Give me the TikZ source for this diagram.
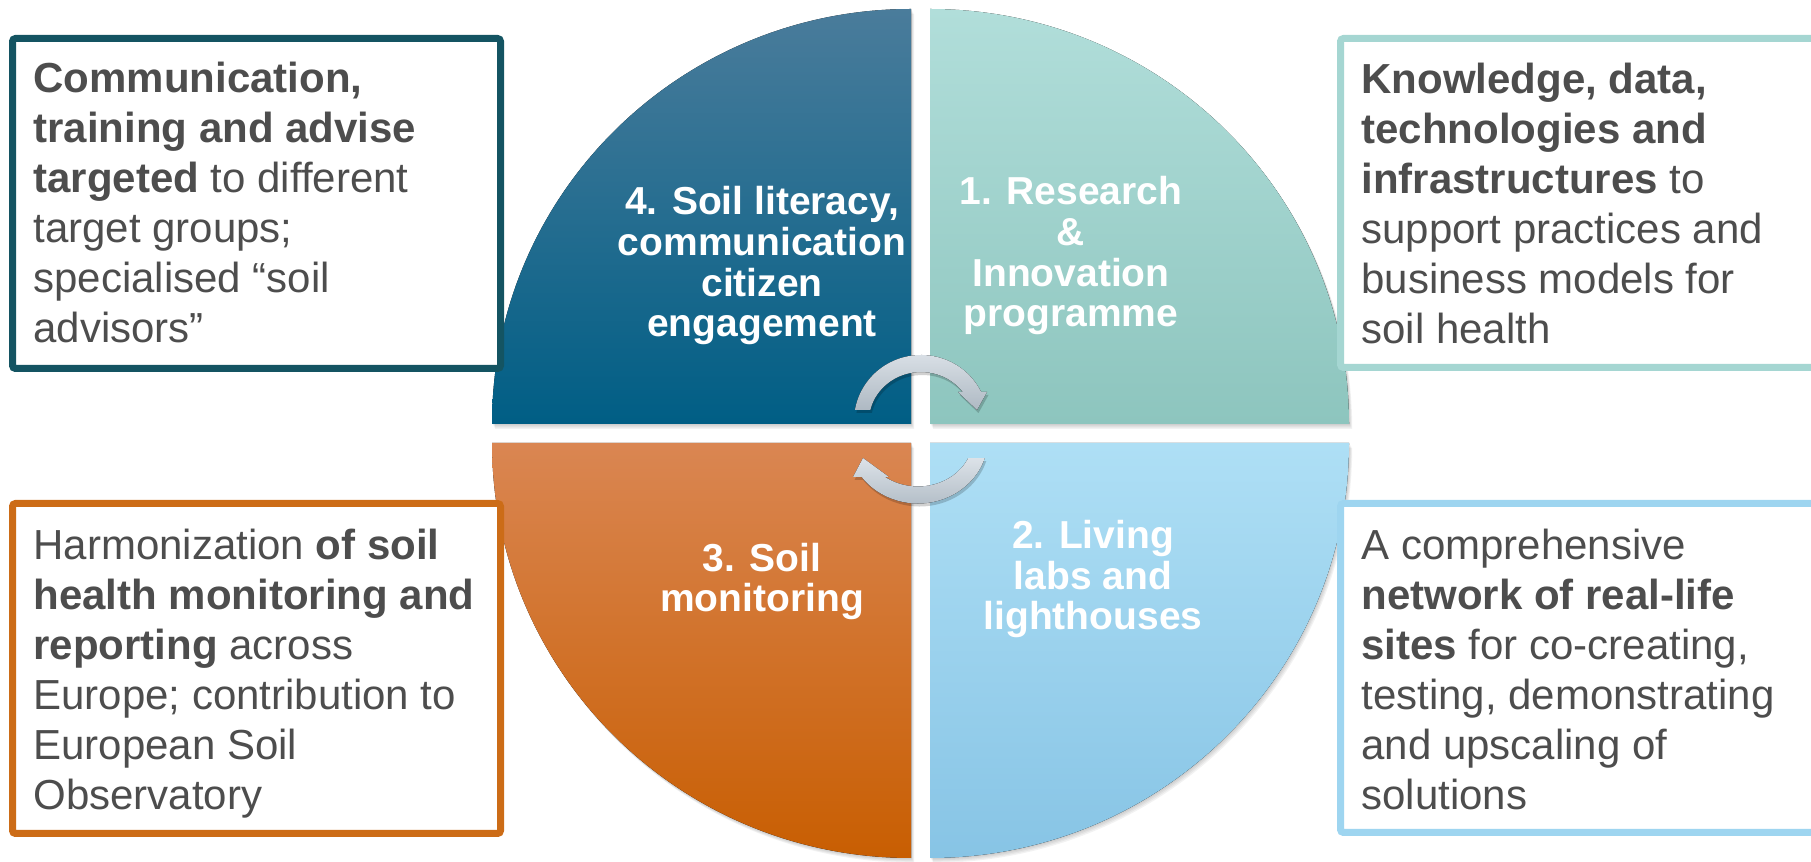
\documentclass[tikz,border=0pt]{standalone}
\usepackage{fontspec}
\setmainfont{Liberation Sans}
\usetikzlibrary{calc}
\definecolor{txt}{HTML}{4D4D4D}
\definecolor{tlTop}{HTML}{4A7C9B}
\definecolor{tlBot}{HTML}{005E85}
\definecolor{trTop}{HTML}{B1DEDA}
\definecolor{trBot}{HTML}{8DC5BE}
\definecolor{blTop}{HTML}{DA8652}
\definecolor{blBot}{HTML}{C85E02}
\definecolor{brTop}{HTML}{AEDFF5}
\definecolor{brBot}{HTML}{87C4E5}
\definecolor{tlLine}{HTML}{145462}
\definecolor{trLine}{HTML}{A5D6D2}
\definecolor{blLine}{HTML}{CC6C17}
\definecolor{brLine}{HTML}{9ED5F0}
\definecolor{arrTop}{HTML}{DCE2E8}
\definecolor{arrBot}{HTML}{AEB9C3}
\newcommand\pathTL{(911,438) -- (492,438) arc[start angle=180,end angle=90,x radius=419,y radius=415] -- cycle}
\newcommand\pathTR{(930,438) -- (930,853) arc[start angle=90,end angle=0,x radius=419,y radius=415] -- cycle}
\newcommand\pathBL{(911,419) -- (911,4) arc[start angle=270,end angle=180,x radius=419,y radius=415] -- cycle}
\newcommand\pathBR{(930,419) -- (1349,419) arc[start angle=0,end angle=-90,x radius=419,y radius=415] -- cycle}
\newcommand\arrowTop{($(921,441)+(170.4:67 and 66)$) arc[start angle=170.4,end angle=26.1,x radius=67,y radius=66] -- (987,470) -- (977,452) -- (958,470) -- ($(921,441)+(36.3:52 and 49)$) arc[start angle=36.3,end angle=167,x radius=52,y radius=49] -- cycle}
\newcommand\arrowBot{($(918,423.5)+(-17.5:70 and 65)$) arc[start angle=-17.5,end angle=-143.7,x radius=70,y radius=65] -- (853,385) -- (863,404) -- (889,385) -- ($(918,423.5)+(-126.7:55 and 48)$) arc[start angle=-126.7,end angle=-24,x radius=55,y radius=48] -- cycle}
\tikzset{
  quadshadow/.style={fill=black,opacity=0.05},
  infobox/.style={line width=3.5pt,rounded corners=1.5pt,fill=white},
  boxtext/.style={anchor=base west,inner sep=0pt,align=left,text=txt,font=\fontsize{21}{25}\selectfont},
  quadlabel/.style={anchor=base,inner sep=0pt,align=center,text=white,font=\bfseries\fontsize{19.5}{20.35}\selectfont},
  cyclearrow/.style={top color=arrTop,bottom color=arrBot,draw=none},
  arrowshadow/.style={fill=black,opacity=0.18},
}
\begin{document}
\begin{tikzpicture}[x=0.5pt,y=0.5pt]
\useasboundingbox (0,0) rectangle (1811,862);
% quadrant shadows
\foreach \q in {\pathTL,\pathTR,\pathBL,\pathBR}{
  \foreach \i in {1,2,3,4}{
    \fill[quadshadow,shift={(0.8*\i,-1.2*\i)}] \q;
  }
}
% quadrants
\fill[top color=tlTop,bottom color=tlBot] \pathTL;
\fill[top color=trTop,bottom color=trBot] \pathTR;
\fill[top color=blTop,bottom color=blBot] \pathBL;
\fill[top color=brTop,bottom color=brBot] \pathBR;
% quadrant labels (base = baseline of last line)
\node[quadlabel] (q4) at (762,525) {4. Soil literacy,\\communication\\citizen\\engagement};
\node[quadlabel] (q1) at (1071,535) {1. Research\\\&\\Innovation\\programme};
\node[quadlabel] (q3) at (762,250) {3. Soil\\monitoring};
\node[quadlabel] (q2) at (1093,232) {2. Living\\labs and\\lighthouses};
% cycle arrows
\fill[arrowshadow,shift={(1.5,-3)}] \arrowTop;
\fill[arrowshadow,shift={(1.5,-3)}] \arrowBot;
\fill[cyclearrow] \arrowTop;
\fill[cyclearrow] \arrowBot;
% info boxes
\draw[infobox,draw=tlLine] (12.5,493.5) rectangle (500.5,823.5);
\draw[infobox,draw=trLine] (1340.5,494.5) rectangle (1830,823.5);
\draw[infobox,draw=blLine] (12.5,28.5) rectangle (500.5,358.5);
\draw[infobox,draw=brLine] (1340.5,29.5) rectangle (1830,358.5);
\node[boxtext] (t4) at (33,519) {\textbf{Communication,}\\\textbf{training and advise}\\\textbf{targeted} to different\\target groups;\\specialised “soil\\advisors”};
\node[boxtext] (t1) at (1361,518) {\textbf{Knowledge, data,}\\\textbf{technologies and}\\\textbf{infrastructures} to\\support practices and\\business models for\\soil health};
\node[boxtext] (t3) at (33,52) {Harmonization \textbf{of soil}\\\textbf{health monitoring and}\\\textbf{reporting} across\\Europe; contribution to\\European Soil\\Observatory};
\node[boxtext] (t2) at (1361,52) {A comprehensive\\\textbf{network of real-life}\\\textbf{sites} for co-creating,\\testing, demonstrating\\and upscaling of\\solutions};
\end{tikzpicture}
\end{document}
